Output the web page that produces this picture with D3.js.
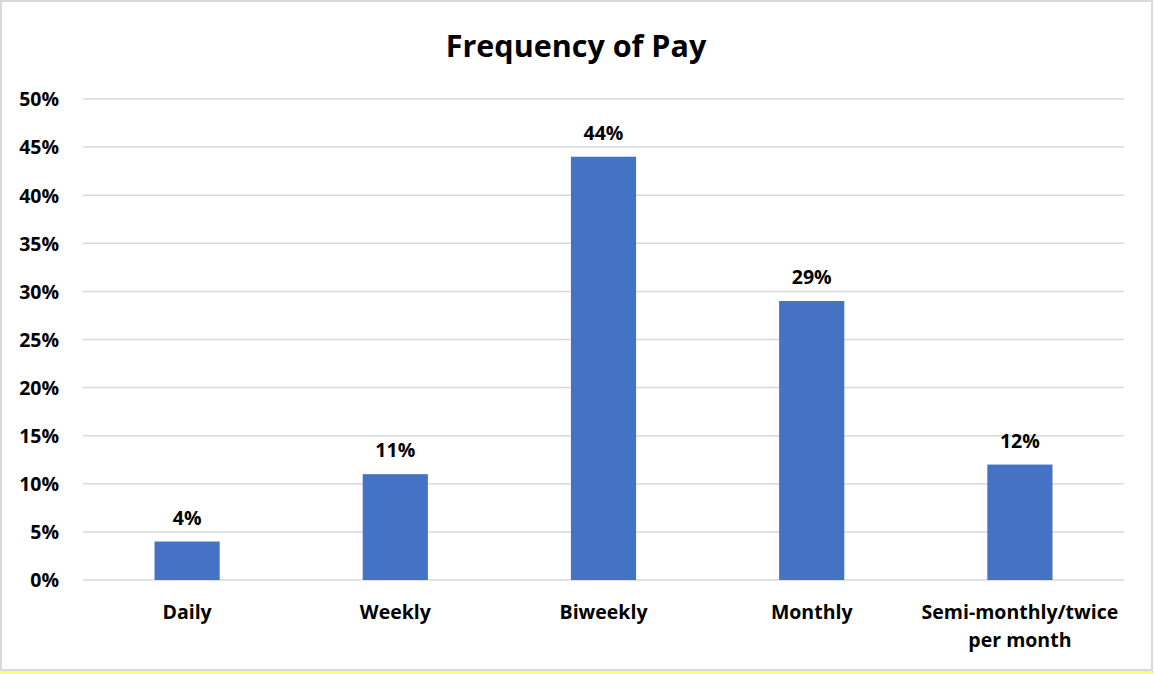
<!DOCTYPE html>
<html>
<head>
<meta charset="utf-8">
<script src="https://cdn.jsdelivr.net/npm/d3@7"></script>
<style>
  html, body { margin: 0; padding: 0; background: #fff; }
  svg { display: block; }
  text { font-family: "Open Sans", "Liberation Sans", sans-serif; font-weight: bold; fill: #000; }
</style>
</head>
<body>
<svg id="chart" width="1154" height="674"></svg>
<script>
// Pay frequency shares (fraction of respondents)
const categories = ["Daily", "Weekly", "Biweekly", "Monthly", "Semi-monthly/twice per month"];
const shares = [0.04, 0.11, 0.44, 0.29, 0.12];
const yTicks = [0, 0.05, 0.10, 0.15, 0.20, 0.25, 0.30, 0.35, 0.40, 0.45, 0.50];
const title = "Frequency of Pay";

const W = 1154, H = 674;
const margin = { left: 83, right: 30, top: 99, bottom: 94 };
const font = "'Open Sans', 'Liberation Sans', sans-serif";
const labelSize = 19.5;
const svg = d3.select("#chart");

// chart frame
svg.append("rect").attr("x", 1).attr("y", 1).attr("width", W - 3).attr("height", H - 5)
  .attr("fill", "#fff").attr("stroke", "#d9d9d9").attr("stroke-width", 2);
svg.append("line").attr("x1", 0).attr("x2", W).attr("y1", H - 1.5).attr("y2", H - 1.5)
  .attr("stroke", "#ffff66").attr("stroke-width", 3);

const x = d3.scaleBand().domain(categories)
  .range([margin.left, W - margin.right])
  .paddingInner(0.687).paddingOuter(0.3435);
const y = d3.scaleLinear().domain([0, 0.5]).range([H - margin.bottom, margin.top]);

// gridlines
svg.append("g").selectAll("line").data(yTicks).join("line")
  .attr("x1", margin.left).attr("x2", W - margin.right)
  .attr("y1", d => y(d)).attr("y2", d => y(d))
  .attr("stroke", "#d9d9d9").attr("stroke-width", 1.5);

// y axis labels
const yAxis = d3.axisLeft(y).tickValues(yTicks).tickFormat(d3.format(".0%")).tickSize(0).tickPadding(0);
const gy = svg.append("g").attr("transform", `translate(${margin.left - 24},0)`).call(yAxis);
gy.select(".domain").remove();
gy.selectAll("text").attr("font-size", labelSize).attr("dy", "0.35em")
  .style("font-family", font).style("font-weight", "bold");

// bars
svg.append("g").selectAll("rect").data(categories).join("rect")
  .attr("x", d => x(d)).attr("width", x.bandwidth())
  .attr("y", (d, i) => y(shares[i]))
  .attr("height", (d, i) => y(0) - y(shares[i]))
  .attr("fill", "#4472C4");

// value labels
svg.append("g").selectAll("text").data(categories).join("text")
  .attr("x", d => x(d) + x.bandwidth() / 2)
  .attr("y", (d, i) => y(shares[i]) - 17)
  .attr("text-anchor", "middle").attr("font-size", labelSize)
  .text((d, i) => d3.format(".0%")(shares[i]));

// category labels (wrapped where needed)
const xAxis = d3.axisBottom(x).tickSize(0).tickPadding(0);
const gx = svg.append("g").attr("transform", `translate(0,${y(0)})`).call(xAxis);
gx.select(".domain").remove();
gx.selectAll("text").each(function(d) {
  const t = d3.select(this);
  t.text(null).attr("y", 0).attr("dy", null).attr("font-size", labelSize)
    .style("font-family", font).style("font-weight", "bold");
  const lines = d === "Semi-monthly/twice per month" ? ["Semi-monthly/twice", "per month"] : [d];
  lines.forEach((ln, k) => {
    t.append("tspan").attr("x", 0).attr("y", 39 + k * 28).text(ln);
  });
});

// title
svg.append("text").attr("x", W / 2 - 1).attr("y", 57).attr("text-anchor", "middle")
  .attr("font-size", 30.5).text(title);
</script>
</body>
</html>
